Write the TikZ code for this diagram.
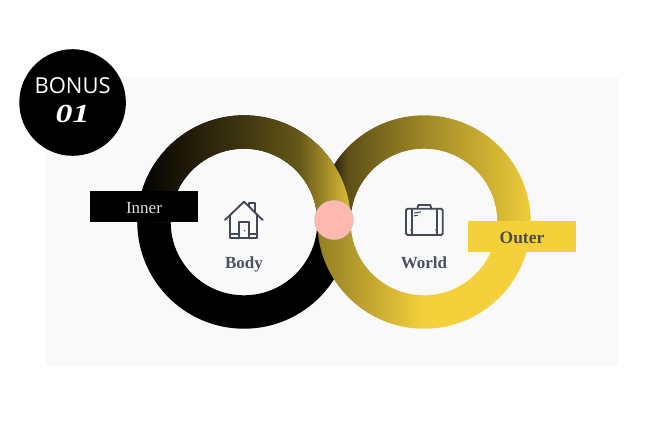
\documentclass[tikz,border=0pt]{standalone}
\usepackage{fontspec}
\setmainfont{Liberation Serif}
\newfontfamily\badgefont{Open Sans}
\definecolor{panel}{HTML}{F9F9F9}
\definecolor{gold}{HTML}{F4D13B}
\definecolor{slate}{HTML}{4A5160}
\definecolor{blush}{HTML}{FFB8B0}
\pgfdeclarehorizontalshading{innerring}{100bp}{color(0bp)=(black); color(25bp)=(black); color(32bp)=(black!92!gold); color(50bp)=(black!74!gold); color(63bp)=(black!58!gold); color(70bp)=(black!30!gold); color(75bp)=(gold!92!black); color(100bp)=(gold)}
\pgfdeclarehorizontalshading{outerring}{100bp}{color(0bp)=(black); color(29bp)=(black!82!gold); color(32bp)=(black!62!gold); color(50bp)=(black!35!gold); color(68bp)=(black!12!gold); color(75bp)=(gold!98!black); color(100bp)=(gold)}
\pgfdeclarehorizontalshading{outerlow}{100bp}{color(0bp)=(black!40!gold); color(25bp)=(black!40!gold); color(50bp)=(gold); color(100bp)=(gold)}
\begin{document}
\begin{tikzpicture}[x=1pt,y=-1pt,
        tag/.style={minimum width=107.5pt,minimum height=30.5pt,inner sep=0pt},
        caption/.style={text=slate,anchor=base,font=\fontsize{17}{17}\selectfont\bfseries},
        icon/.style={draw=slate!90!black,line width=1.9pt,line join=round,line cap=round}]
    \useasboundingbox (0,0) rectangle (664,445);
    \fill[panel] (45,78) rectangle (619,366);

    %rings, in the order they overlap:
    \fill[black,even odd rule] (244,222) circle (106.7) (244,222) circle (73.3);
    \begin{scope}
        \clip (300,90) rectangle (560,222);
        \shade[shading=outerring,even odd rule] (424,222) circle (106.7) (424,222) circle (73.3);
    \end{scope}
    \begin{scope}
        \clip (120,90) rectangle (380,222);
        \shade[shading=innerring,even odd rule] (244,222) circle (106.7) (244,222) circle (73.3);
    \end{scope}
    \begin{scope}
        \clip (300,221.5) rectangle (560,340);
        \shade[shading=outerlow,even odd rule] (424,222) circle (106.7) (424,222) circle (73.3);
    \end{scope}
    \node[circle,fill=blush,draw=black!20,line width=0.4pt,minimum size=39pt,inner sep=0pt] (knot) at (334,220) {};

    %tags
    \node[tag,fill=black] (inner) at (143.8,206.5) {};
    \node[tag,fill=gold] (outer) at (522,236.7) {};
    \node[anchor=base,text=black!12,font=\fontsize{17}{17}\selectfont] (innertext) at (144,213) {Inner};
    \node[anchor=base,text=black!70,font=\fontsize{17.5}{17}\selectfont\bfseries] (outertext) at (522,243.3) {Outer};

    %captions
    \foreach \x/\y/\n/\l in {244/268.5/body/Body,424/268.5/world/World}{
        \node[caption] (\n) at (\x,\y) {\l};
    }

    %house
    \draw[icon] (225,220) -- (244,201.7) -- (262.7,220);
    \draw[icon] (249.3,206.5) -- (249.3,203.3) -- (255.3,203.3) -- (255.3,212);
    \draw[icon] (230,215.5) -- (230,238.3) -- (257.3,238.3) -- (257.3,215.5);
    \draw[icon] (230,234.3) -- (239.3,234.3) (248.7,234.3) -- (257.3,234.3);
    \draw[icon] (239.3,238) -- (239.3,222.3) -- (248.7,222.3) -- (248.7,238);
    \fill[slate] (244.7,230.7) circle (0.8);

    %case
    \draw[icon,rounded corners=1.5pt] (406,208.7) rectangle (442.7,235);
    \draw[icon] (417.3,208.7) -- (418.3,205) -- (430.3,205) -- (431.3,208.7);
    \draw[icon] (411.7,208.7) -- (411.7,235) (436.7,208.7) -- (436.7,235);
    \draw[icon,line width=1.1pt] (414.5,213) -- (420.5,212) (414.5,215.8) -- (417.5,215.3);
    \fill[slate] (411.7,230) circle (1.5) (436.7,230) circle (1.5);

    %badge
    \node[circle,fill=black,minimum size=106.6pt,inner sep=0pt] (badge) at (72.6,102.5) {};
    \node[text=white,font=\badgefont\fontsize{22}{22}\selectfont] (bonus) at (72.6,85.5) {BONUS};
    \node[text=white,font=\fontsize{26}{26}\selectfont\bfseries\itshape] (num) at (72.6,113.5) {\scalebox{1.3}[1]{01}};
\end{tikzpicture}
\end{document}
